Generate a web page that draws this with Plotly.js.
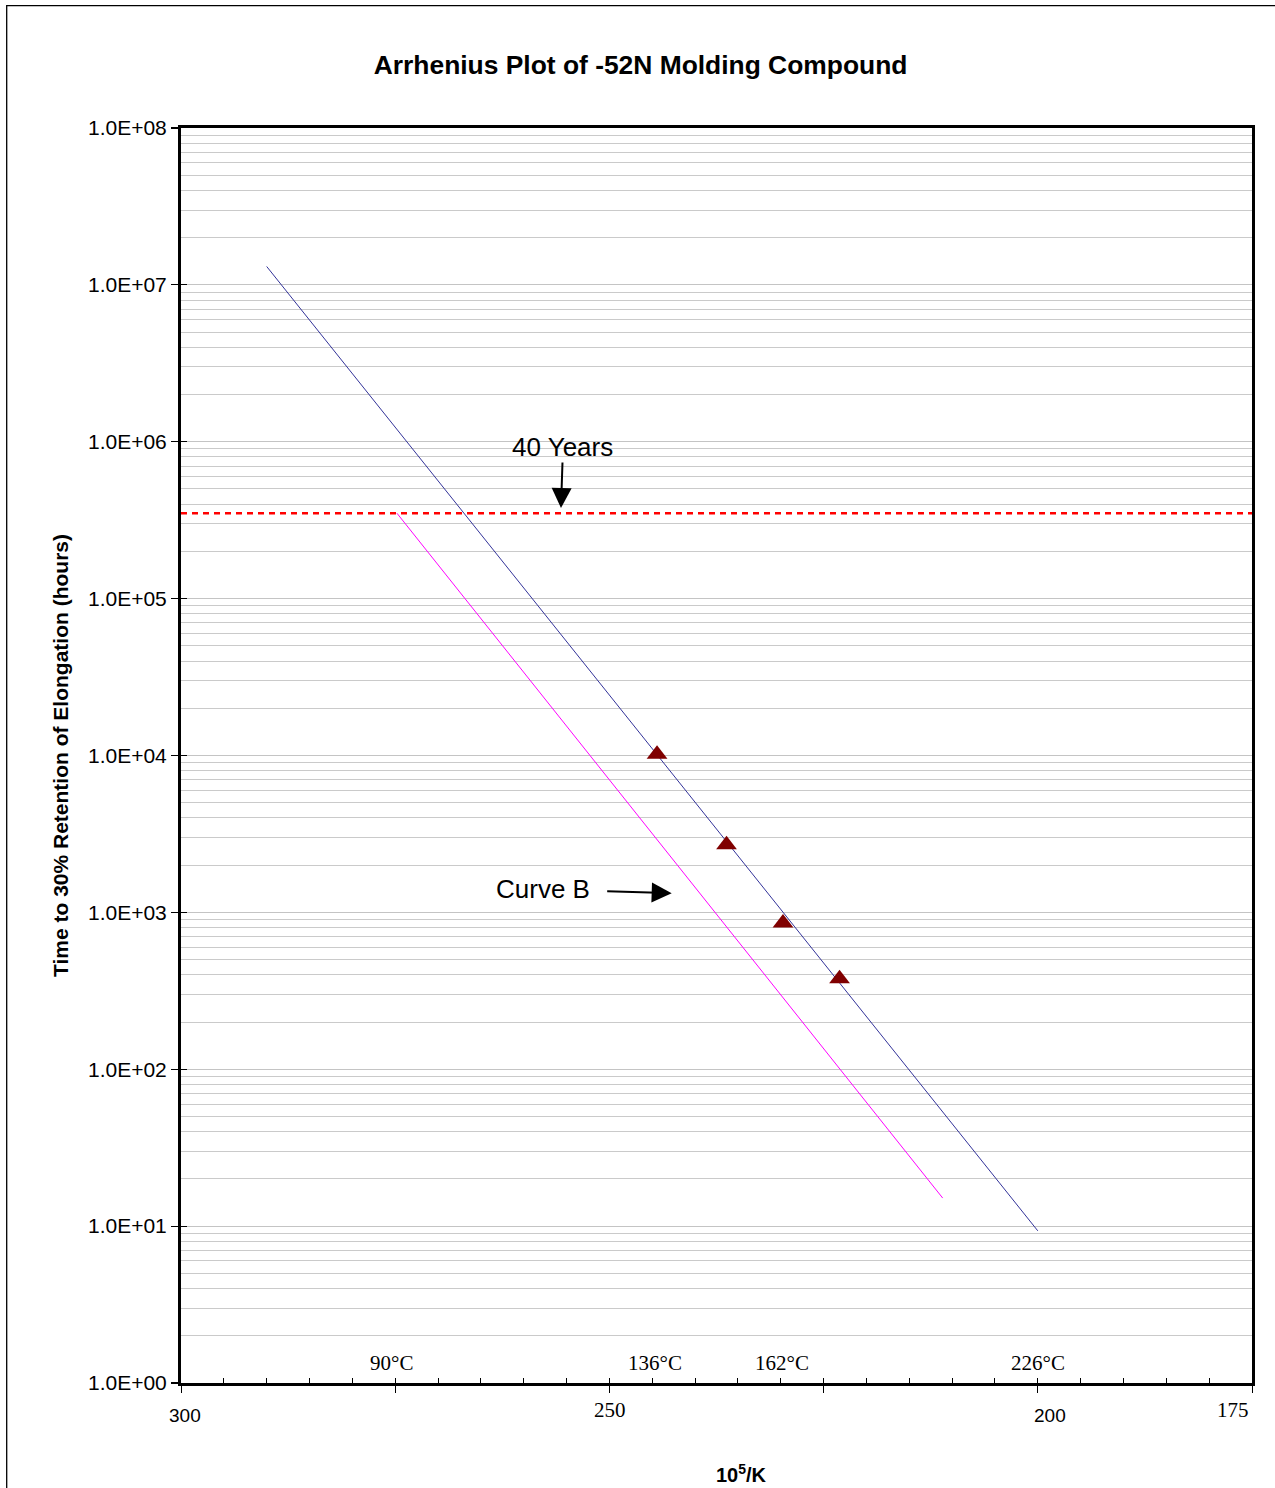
<!DOCTYPE html>
<html>
<head>
<meta charset="utf-8">
<script src="https://cdn.plot.ly/plotly-3.0.1.min.js"></script>
<style>
  html, body { margin: 0; padding: 0; background: #fff; }
  #chart { width: 1275px; height: 1488px; }
</style>
</head>
<body>
<div id="chart"></div>
<script>
// ---- data ----
const blueX = [290.0, 200.0];                 // 10^5/K
const blueY = [1.31e7, 9.33];                 // hours
const curveBX = [274.8, 211.1];
const curveBY = [3.504e5, 15.1];
const pointsX = [244.44, 236.33, 229.74, 223.14];
const pointsY = [1.02e4, 2700, 857, 377];
const fortyYearsX = [300, 175];
const fortyYearsY = [350400, 350400];

const yTickVals = [1, 10, 100, 1000, 1e4, 1e5, 1e6, 1e7, 1e8];
const yTickText = ['1.0E+00','1.0E+01','1.0E+02','1.0E+03','1.0E+04','1.0E+05','1.0E+06','1.0E+07','1.0E+08'];
const xMajorTicks = [300, 275, 250, 225, 200, 175];
const xTickText = ['300', '250', '200', '175'];
const xTickPos = [299.5, 249.9, 198.6, 177.2];
const xTickSerif = [false, true, false, true];
const tempLabels = ['90°C', '136°C', '162°C', '226°C'];
const tempX = [275.4, 244.7, 229.8, 200.0];

// minor gridline positions 2..9 in every decade
const yMinor = [];
for (let d = 0; d < 8; d++) for (let m = 2; m <= 9; m++) yMinor.push(m * Math.pow(10, d));

const SANS = 'Liberation Sans, Arial, sans-serif';
const SERIF = 'Liberation Serif, Times New Roman, serif';

// plot-area pixel geometry
const L = 181, R = 23, T = 128, B = 105, H = 1488;
const plotH = H - T - B;
const py = p => (H - B - p) / plotH;   // page pixel y -> paper y

const traces = [
  { x: blueX, y: blueY, mode: 'lines', line: { color: '#333399', width: 1 }, hoverinfo: 'skip', showlegend: false },
  { x: curveBX, y: curveBY, mode: 'lines', line: { color: '#ff00ff', width: 1 }, hoverinfo: 'skip', showlegend: false },
  { x: pointsX, y: pointsY, mode: 'markers', marker: { symbol: 'triangle-up', size: 18, color: '#800000' }, showlegend: false },
  { x: fortyYearsX, y: fortyYearsY, xaxis: 'x2', yaxis: 'y2', mode: 'lines',
    line: { color: '#ff0000', width: 2.5, dash: '6px,5px' }, hoverinfo: 'skip', showlegend: false }
];

const annotations = [];
xTickText.forEach((t, i) => annotations.push({
  text: t, x: xTickPos[i], xref: 'x', y: py(xTickSerif[i] ? 1410 : 1415), yref: 'paper',
  showarrow: false, xanchor: 'center', yanchor: 'middle',
  font: { family: xTickSerif[i] ? SERIF : SANS, size: xTickSerif[i] ? 21 : 19, color: '#000' }
}));
tempLabels.forEach((t, i) => annotations.push({
  text: t, x: tempX[i], xref: 'x', y: py(1363), yref: 'paper',
  showarrow: false, xanchor: 'center', yanchor: 'middle',
  font: { family: SERIF, size: 21, color: '#000' }
}));
annotations.push(
  { text: '40 Years', x: 255.65, y: 5.578, xref: 'x', yref: 'y', showarrow: true, ax: 2, ay: -61,
    arrowhead: 2, arrowsize: 2, arrowwidth: 2, arrowcolor: '#000', standoff: 0, borderpad: 0,
    font: { family: SANS, size: 26, color: '#000' } },
  { text: 'Curve B', x: 242.73, y: 3.122, xref: 'x', yref: 'y', showarrow: true, ax: -129, ay: -4,
    arrowhead: 2, arrowsize: 2, arrowwidth: 2, arrowcolor: '#000', standoff: 0, borderpad: 17,
    font: { family: SANS, size: 26, color: '#000' } },
  { text: '<b>10<sup>5</sup>/K</b>', x: 234.64, xref: 'x', y: py(1473), yref: 'paper',
    showarrow: false, xanchor: 'center', yanchor: 'middle',
    font: { family: SANS, size: 20, color: '#000' } }
);

const layout = {
  width: 1275, height: 1488,
  margin: { l: L, r: R, t: T, b: B, pad: 0 },
  paper_bgcolor: '#fff', plot_bgcolor: '#fff',
  font: { family: SANS, color: '#000' },
  title: { text: '<b>Arrhenius Plot of -52N Molding Compound</b>', xref: 'container', x: 0.5024,
           xanchor: 'center', yref: 'container', y: 1 - 64.5 / 1488, yanchor: 'middle',
           font: { family: SANS, size: 26.4, color: '#000' } },
  xaxis: {
    range: [300, 175], showgrid: false, zeroline: false,
    showline: true, linecolor: '#000', linewidth: 3, mirror: true,
    tickmode: 'array', tickvals: xMajorTicks, ticks: 'outside', ticklen: 7, tickwidth: 1, tickcolor: '#000',
    showticklabels: false, fixedrange: true
  },
  xaxis2: {
    overlaying: 'x', anchor: 'y2', side: 'bottom', range: [300, 175], showgrid: false, zeroline: false,
    showline: false, tickmode: 'linear', tick0: 300, dtick: 5, ticks: 'inside', ticklen: 5, tickwidth: 1,
    tickcolor: '#000', showticklabels: false, fixedrange: true
  },
  yaxis: {
    type: 'log', range: [0, 8], zeroline: false,
    showline: true, linecolor: '#000', linewidth: 3, mirror: true,
    tickmode: 'array', tickvals: yTickVals, ticktext: yTickText,
    ticks: 'outside', ticklen: 7, tickwidth: 1.2, tickcolor: '#000',
    tickfont: { family: SANS, size: 21, color: '#000' },
    showgrid: true, gridcolor: '#c4c4c4', gridwidth: 1,
    minor: { tickmode: 'array', tickvals: yMinor, showgrid: true, gridcolor: '#cacaca', gridwidth: 1, ticks: '' },
    title: { text: '<b>Time to 30% Retention of Elongation (hours)</b>', standoff: 14,
             font: { family: SANS, size: 21, color: '#000' } },
    fixedrange: true
  },
  yaxis2: {
    type: 'log', overlaying: 'y', anchor: 'x2', side: 'left', range: [0, 8], zeroline: false,
    showgrid: false, showline: false, tickmode: 'array', tickvals: yTickVals,
    ticks: 'inside', ticklen: 6, tickwidth: 1.2, tickcolor: '#000', showticklabels: false, fixedrange: true
  },
  shapes: [
    { type: 'rect', xref: 'paper', yref: 'paper',
      x0: (6.7 - L) / 1071, x1: 1.1, y0: -0.2, y1: py(5.7),
      line: { color: '#000', width: 1.3 }, fillcolor: 'rgba(0,0,0,0)', layer: 'above' }
  ],
  annotations: annotations,
  showlegend: false
};

Plotly.newPlot('chart', traces, layout, { displayModeBar: false, staticPlot: true });
</script>
</body>
</html>
